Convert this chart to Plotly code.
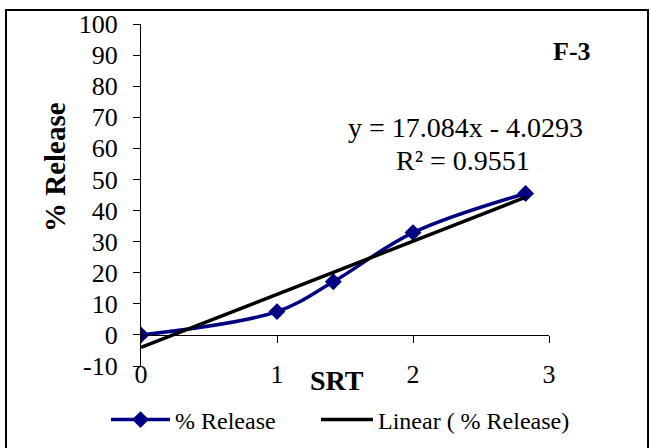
import plotly.graph_objects as go

srt = [0, 1, 1.414, 2, 2.828]
release = [0, 7.5, 17.1, 32.9, 45.5]
slope = 17.084
intercept = -4.0293
y_ticks = [-10, 0, 10, 20, 30, 40, 50, 60, 70, 80, 90, 100]
x_ticks = [0, 1, 2, 3]

trend_x = [min(srt), max(srt)]
trend_y = [slope * v + intercept for v in trend_x]

FONT = "Liberation Serif"
NAVY = "#000080"

# plot-area pixel geometry
L, R, T, B = 141, 549, 24, 366
W, H = R - L, B - T


def px(xp):
    return (xp - L) / W


def py(yp):
    return (B - yp) / H


fig = go.Figure()
fig.add_trace(go.Scatter(
    x=srt, y=release, mode="lines+markers", name="% Release", legend="legend",
    line=dict(color=NAVY, width=3.5, shape="spline", smoothing=1),
    marker=dict(symbol="diamond", size=13, color=NAVY),
))
fig.add_trace(go.Scatter(
    x=trend_x, y=trend_y, mode="lines", name="Linear ( % Release)", legend="legend2",
    line=dict(color="black", width=3.5),
))
# invisible trace on xaxis2 so the zero-line axis is drawn
fig.add_trace(go.Scatter(x=trend_x, y=trend_y, xaxis="x2", mode="lines",
                         line=dict(width=0), showlegend=False, hoverinfo="skip"))

leg_common = dict(orientation="h", xanchor="left", yanchor="middle",
                  font=dict(family=FONT, size=24, color="black"),
                  bgcolor="rgba(0,0,0,0)")

fig.update_layout(
    width=650, height=448,
    margin=dict(l=L, r=650 - R, t=T, b=448 - B, autoexpand=False),
    paper_bgcolor="white", plot_bgcolor="white",
    font=dict(family=FONT, size=26, color="black"),
    showlegend=True,
    legend=dict(x=px(106), y=py(420), itemwidth=59, **leg_common),
    legend2=dict(x=px(316), y=py(420), itemwidth=52, **leg_common),
    xaxis=dict(range=[0, 3], tickvals=x_ticks, showline=False, showgrid=False,
               zeroline=False, ticks="", anchor="free", position=0.03,
               tickfont=dict(family=FONT, size=26)),
    xaxis2=dict(range=[0, 3], overlaying="x", matches="x", tickvals=x_ticks, anchor="free",
                position=10 / 110, showline=True, linecolor="black", linewidth=1.3,
                ticks="outside", ticklen=7, tickcolor="black", showticklabels=False,
                showgrid=False, zeroline=False),
    yaxis=dict(range=[-10, 100], tickvals=y_ticks, ticktext=[str(v) for v in y_ticks],
               showline=True, linecolor="black",
               linewidth=1.3, ticks="outside", ticklen=7, tickcolor="black",
               showgrid=False, zeroline=False, ticklabelstandoff=10,
               tickfont=dict(family=FONT, size=26)),
    shapes=[dict(type="rect", xref="paper", yref="paper",
                 x0=px(6), x1=px(648), y0=py(452), y1=py(10),
                 line=dict(color="black", width=2))],
    annotations=[
        dict(text="<b>% Release</b>", textangle=-90, xref="paper", yref="paper",
             x=px(55), y=py(167), xanchor="center", yanchor="middle", showarrow=False,
             font=dict(family=FONT, size=29)),
        dict(text="<b>SRT</b>", xref="paper", yref="paper",
             x=px(337), y=py(381), xanchor="center", yanchor="middle", showarrow=False,
             font=dict(family=FONT, size=28)),
        dict(text="<b>F-3</b>", xref="paper", yref="paper",
             x=px(572), y=py(51), xanchor="center", yanchor="middle", showarrow=False,
             font=dict(family=FONT, size=26)),
        dict(text="y = 17.084x - 4.0293", xref="paper", yref="paper",
             x=px(465), y=py(127), xanchor="center", yanchor="middle", showarrow=False,
             font=dict(family=FONT, size=28)),
        dict(text="R² = 0.9551", xref="paper", yref="paper",
             x=px(463), y=py(160), xanchor="center", yanchor="middle", showarrow=False,
             font=dict(family=FONT, size=28)),
    ],
)

fig.write_html("out.html")
